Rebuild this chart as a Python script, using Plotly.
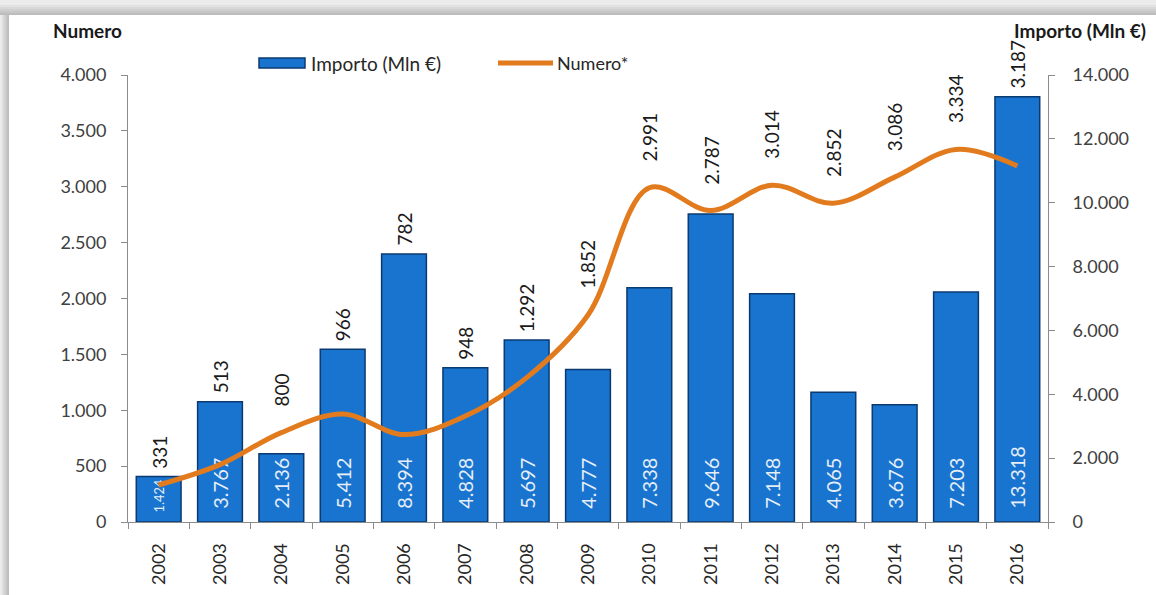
import plotly.graph_objects as go

years = ["2002", "2003", "2004", "2005", "2006", "2007", "2008", "2009",
         "2010", "2011", "2012", "2013", "2014", "2015", "2016"]
importo = [1424, 3767, 2136, 5412, 8394, 4828, 5697, 4777,
           7338, 9646, 7148, 4065, 3676, 7203, 13318]
numero = [331, 513, 800, 966, 782, 948, 1292, 1852,
          2991, 2787, 3014, 2852, 3086, 3334, 3187]

left_ticks = list(range(0, 4001, 500))
right_ticks = list(range(0, 14001, 2000))

W, H = 1156, 595
ML, MR, MT, MB = 128, 108, 75, 73
PW, PH = W - ML - MR, H - MT - MB
FONT = "Lato"
NBSP = "\u00a0"


def it(v):
    return f"{v:,}".replace(",", ".")


def px(x):
    return (x - ML) / PW


def py(y):
    return (H - MB - y) / PH


fig = go.Figure()
# bars on the primary (right-side) axis so the line on the overlay is drawn on top
fig.add_trace(go.Bar(
    x=years, y=importo, yaxis="y", name="Importo (Mln €)",
    marker=dict(color="#1874cf", line=dict(color="#0b3a70", width=1.5)),
    width=0.73,
    text=[NBSP * 2 + it(v) for v in importo], textposition="inside",
    insidetextanchor="start", textangle=-90, constraintext="inside",
    textfont=dict(family=FONT, size=20, color="#e6eef8"),
    showlegend=False, hoverinfo="x+y",
))
fig.add_trace(go.Scatter(
    x=years, y=numero, yaxis="y2", mode="lines", name="Numero*",
    line=dict(color="#e27b1e", width=5, shape="spline", smoothing=1.0),
    showlegend=False, hoverinfo="x+y",
))

ann = []
ratio = 14000 / 4000
for i, (n, imp) in enumerate(zip(numero, importo)):
    bar_level = imp / ratio
    on_line = n >= bar_level
    ann.append(dict(x=i, y=max(n, bar_level), xref="x", yref="y2", text=it(n),
                    textangle=-90, showarrow=False, yanchor="bottom",
                    xanchor="center", yshift=24 if on_line else 6,
                    font=dict(family=FONT, size=19, color="#1a1a1a")))

ann.append(dict(x=px(87), y=py(30), xref="paper", yref="paper", text="Numero",
                showarrow=False, xanchor="center", yanchor="middle",
                font=dict(family=FONT, size=19, color="#1a1a1a", weight="bold")))
ann.append(dict(x=px(1080), y=py(30), xref="paper", yref="paper",
                text="Importo (Mln €)", showarrow=False,
                xanchor="center", yanchor="middle",
                font=dict(family=FONT, size=19, color="#1a1a1a", weight="bold")))
ann.append(dict(x=px(309), y=py(63), xref="paper", yref="paper",
                text="Importo (Mln €)", showarrow=False, xanchor="left",
                yanchor="middle", font=dict(family=FONT, size=19, color="#262626")))
ann.append(dict(x=px(555), y=py(63), xref="paper", yref="paper",
                text="Numero*", showarrow=False, xanchor="left",
                yanchor="middle", font=dict(family=FONT, size=18, color="#262626")))

shapes = []
# frame shading (top and left edges)
greys = ["#bdbdbd", "#c6c6c6", "#cfcfcf", "#d8d8d8", "#e2e2e2", "#ececec"]
for i, g in enumerate(greys):
    shapes.append(dict(type="rect", xref="paper", yref="paper", layer="below",
                       x0=px(0), x1=px(W), y0=py(15 - 2 * i), y1=py(0),
                       fillcolor=g, line=dict(width=0)))
for i, g in enumerate(greys):
    shapes.append(dict(type="rect", xref="paper", yref="paper", layer="below",
                       x0=px(0), x1=px(9 - i * 1.5), y0=py(H), y1=py(15),
                       fillcolor=g, line=dict(width=0)))
# custom legend glyphs
shapes.append(dict(type="rect", xref="paper", yref="paper",
                   x0=px(259), x1=px(305), y0=py(68), y1=py(58),
                   fillcolor="#1874cf", line=dict(color="#0b3a70", width=1.5)))
shapes.append(dict(type="line", xref="paper", yref="paper",
                   x0=px(498), x1=px(553), y0=py(63), y1=py(63),
                   line=dict(color="#e27b1e", width=5)))

axis_line = dict(showline=True, linecolor="#8c8c8c", linewidth=1,
                 ticks="outside", tickcolor="#8c8c8c", ticklen=6, showgrid=False,
                 zeroline=False)

fig.update_layout(
    width=W, height=H, margin=dict(l=ML, r=MR, t=MT, b=MB, autoexpand=False),
    paper_bgcolor="white", plot_bgcolor="white",
    separators=",.",
    xaxis=dict(type="category", tickangle=-90, tickson="boundaries",
               tickfont=dict(family=FONT, size=18, color="#262626"),
               ticklabelstandoff=13, range=[-0.5, 14.5], **axis_line),
    yaxis=dict(range=[0, 14000], tickvals=right_ticks, side="right",
               ticktext=[it(v) for v in right_ticks],
               tickfont=dict(family=FONT, size=18, color="#404040"),
               ticklabelstandoff=14, **axis_line),
    yaxis2=dict(range=[0, 4000], tickvals=left_ticks, side="left",
                ticktext=[it(v) for v in left_ticks], overlaying="y",
                tickfont=dict(family=FONT, size=18, color="#404040"),
                ticklabelstandoff=11, **axis_line),
    annotations=ann, shapes=shapes, showlegend=False,
)

fig.write_html("out.html", config={"displayModeBar": False},
               post_script="document.body.style.margin='0';"
                           "document.body.style.overflow='hidden';")
